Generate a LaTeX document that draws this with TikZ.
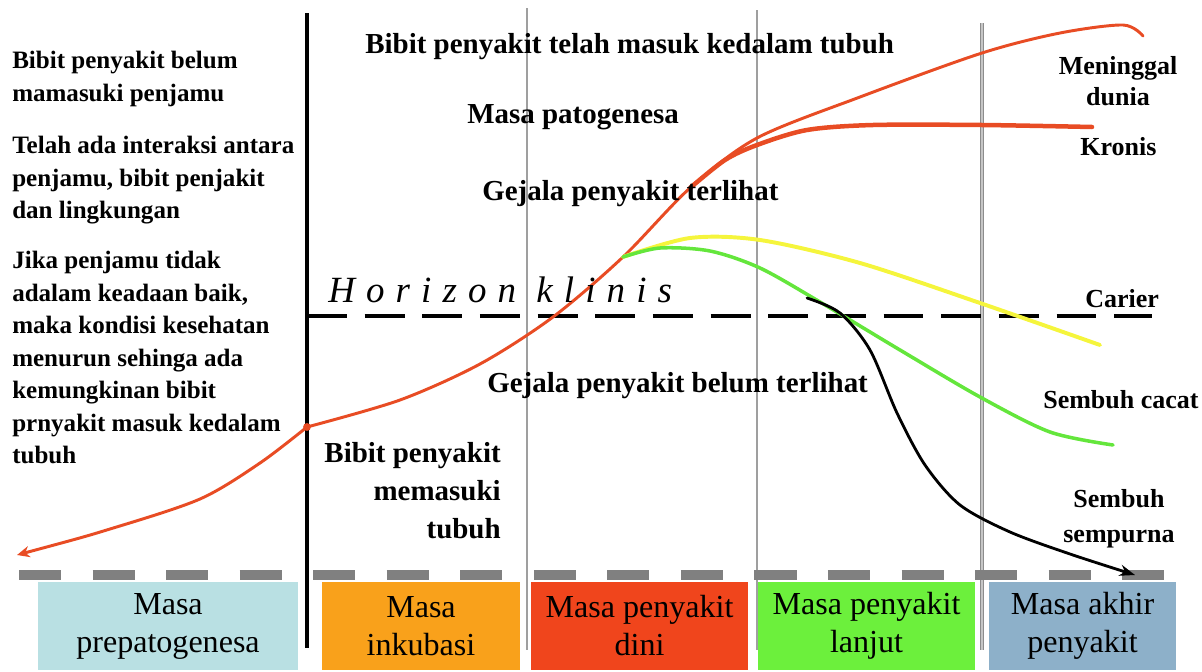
\documentclass[tikz,border=0pt]{standalone}
\usepackage{fontspec}
\setmainfont{Liberation Serif}
\newfontfamily\horizonfont[LetterSpace=30]{Liberation Serif}
\usetikzlibrary{arrows.meta}
\definecolor{curvered}{RGB}{232,76,36}
\definecolor{curveyellow}{RGB}{245,245,60}
\definecolor{curvegreen}{RGB}{100,230,60}
\definecolor{prepatfill}{RGB}{185,224,227}
\definecolor{inkubfill}{RGB}{249,161,27}
\definecolor{dinifill}{RGB}{240,69,28}
\definecolor{lanjutfill}{RGB}{108,240,60}
\definecolor{akhirfill}{RGB}{141,176,201}
\begin{document}
\begin{tikzpicture}[x=0.025cm,y=-0.025cm,
  txt/.style={inner sep=0pt, font={\bfseries\fontsize{20.6}{27}\selectfont}},
  side/.style={inner sep=0pt, align=left, font={\bfseries\fontsize{17.8}{23.1}\selectfont}},
  tag/.style={inner sep=0pt, align=center, font={\bfseries\fontsize{18.5}{22}\selectfont}},
  phase/.style={rectangle, inner sep=0pt, minimum height=2.2cm, align=center, font={\fontsize{22.8}{27}\selectfont}},
  stage/.style={draw=gray!75, line width=1.1pt},
  course/.style={line width=2.1pt, line cap=round}]
\useasboundingbox (0,0) rectangle (1202,671);
% phase boxes
\node[phase, fill=prepatfill, minimum width=6.5cm] (prepat) at (168,626) {Masa\\prepatogenesa};
\node[phase, fill=inkubfill, minimum width=4.95cm] (inkub) at (421,626) {Masa\\inkubasi};
\node[phase, fill=dinifill, minimum width=5.425cm] (dini) at (639.5,626) {Masa penyakit\\dini};
\node[phase, fill=lanjutfill, minimum width=5.425cm] (lanjut) at (866.5,626) {Masa penyakit\\lanjut};
\node[phase, fill=akhirfill, minimum width=4.675cm] (akhir) at (1082.5,626) {Masa akhir\\penyakit};
% dividers
\draw[line width=3pt] (307,13) -- (307,648);
\draw[stage] (527,8) -- (527,650);
\draw[stage] (757,10) -- (757,650);
\draw[stage, draw=gray!90, double=gray!45, double distance=0.8pt, line width=1pt] (982,23) -- (982,650);
\draw[gray, line width=7.1pt, dash pattern=on 29.9pt off 22.4pt] (19,575) -- (1164,575);
\draw[line width=2.8pt, dash pattern=on 28.4pt off 12.6pt] (307,316) -- (1152,316);
% curves
\coordinate (entry) at (307,427);
\coordinate (onset) at (623,257);
\coordinate (split) at (690,188);
\draw[course, curvered, {Stealth[length=9pt,width=8pt]}-] plot[smooth] coordinates {(17,555) (110,529) (200,499) (260,463) (entry)};
\draw[course, curvered] plot[smooth] coordinates {(entry) (400,400) (480,364) (553,317) (onset) (split) (757,138) (860,97) (982,53) (1060,33) (1123,25) (1143,36)};
\draw[course, curvered, line width=3.2pt] plot[smooth] coordinates {(split) (725,160) (757,145) (807,130) (873,125) (982,125) (1092,127)};
\fill[curvered] (entry) circle (2.8pt);
\draw[course, curveyellow, line width=2.8pt] plot[smooth] coordinates {(onset) (690,238) (760,240) (860,263) (980,303) (1100,345)};
\draw[course, curvegreen, line width=2.5pt] plot[smooth] coordinates {(onset) (660,248) (710,251) (760,268) (820,302) (900,350) (980,397) (1050,432) (1113,445)};
\draw[course, line width=2pt, -{Stealth[length=11pt,width=8pt]}] plot[smooth] coordinates {(807,298) (840,313) (870,350) (897,413) (925,465) (960,505) (1010,532) (1070,554) (1135,575)};
% left notes
\node[side, anchor=north west] (belum) at (12,51) {Bibit penyakit belum\\mamasuki penjamu};
\node[side, anchor=north west] (interaksi) at (12,136) {Telah ada interaksi antara\\penjamu, bibit penjakit\\dan lingkungan};
\node[side, anchor=north west] (kondisi) at (12,251) {Jika penjamu tidak\\adalam keadaan baik,\\maka kondisi kesehatan\\menurun sehinga ada\\kemungkinan bibit\\prnyakit masuk kedalam\\tubuh};
% middle notes
\node[txt, anchor=base west] (masuk) at (365,53) {Bibit penyakit telah masuk kedalam tubuh};
\node[txt, anchor=base west] (patogen) at (467,123) {Masa patogenesa};
\node[txt, anchor=base west] (terlihat) at (482,200) {Gejala penyakit terlihat};
\node[txt, anchor=base west] (belumlihat) at (487,392) {Gejala penyakit belum terlihat};
\node[txt, align=right, anchor=north east] (memasuki) at (501,442) {Bibit penyakit\\memasuki\\tubuh};
\node[inner sep=0pt, anchor=base west, font={\horizonfont\itshape\fontsize{26.3}{30}\selectfont}] (horizon) at (328,302) {Horizon klinis};
% outcomes
\node[tag, anchor=north] (meninggal) at (1118,56) {Meninggal\\dunia};
\node[tag, anchor=base west] (kronis) at (1080,155) {Kronis};
\node[tag, anchor=base west] (carier) at (1085,307) {Carier};
\node[tag, anchor=base west] (cacat) at (1043,408) {Sembuh cacat};
\node[tag, anchor=north, font={\bfseries\fontsize{18.5}{24.9}\selectfont}] (sempurna) at (1119,489) {Sembuh\\sempurna};
\end{tikzpicture}
\end{document}
